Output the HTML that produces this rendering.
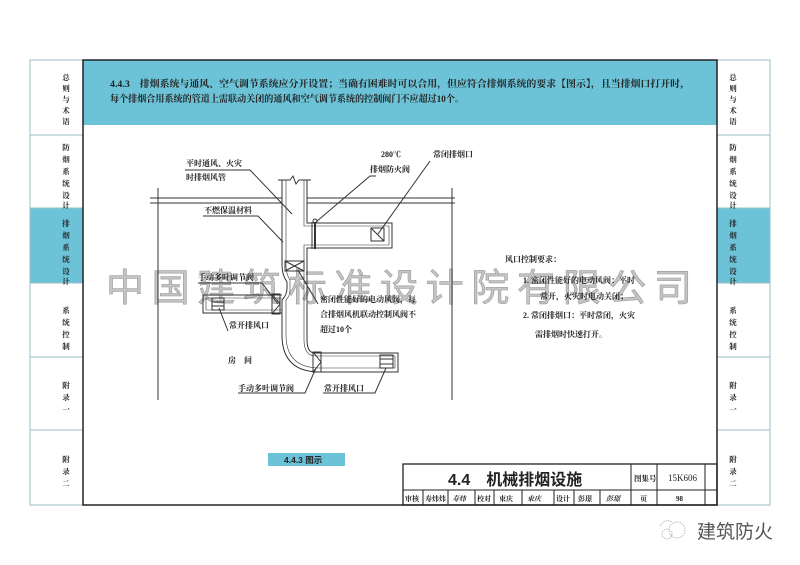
<!DOCTYPE html>
<html><head><meta charset="utf-8"><style>
html,body{margin:0;padding:0;background:#fff;width:800px;height:565px;overflow:hidden}
svg{display:block}
text{font-family:"Liberation Serif","Noto Serif CJK SC","Noto Sans CJK SC",serif;fill:#222}
.s{font-family:"Liberation Sans","Noto Sans CJK SC",sans-serif}
</style></head><body>
<svg width="800" height="565" viewBox="0 0 800 565" xmlns="http://www.w3.org/2000/svg">
<g stroke="#9bbfc6" stroke-width="1" fill="#fff">
<rect x="30" y="60" width="53" height="445"/>
<rect x="717" y="60" width="53" height="445"/>
</g>
<rect x="30.5" y="208" width="52" height="75" fill="#6cc3d8"/>
<rect x="717.5" y="208" width="52" height="75" fill="#6cc3d8"/>
<g stroke="#9bbfc6">
<line x1="30" y1="135" x2="83" y2="135"/><line x1="30" y1="208" x2="83" y2="208"/><line x1="30" y1="283" x2="83" y2="283"/><line x1="30" y1="357" x2="83" y2="357"/><line x1="30" y1="430" x2="83" y2="430"/>
<line x1="717" y1="135" x2="770" y2="135"/><line x1="717" y1="208" x2="770" y2="208"/><line x1="717" y1="283" x2="770" y2="283"/><line x1="717" y1="357" x2="770" y2="357"/><line x1="717" y1="430" x2="770" y2="430"/>
</g>
<g font-size="7.5" font-weight="bold" text-anchor="middle">
<g>
<text x="66" y="80">总</text><text x="66" y="91">则</text><text x="66" y="102">与</text><text x="66" y="113">术</text><text x="66" y="124">语</text>
<text x="66" y="150">防</text><text x="66" y="162">烟</text><text x="66" y="174">系</text><text x="66" y="186">统</text><text x="66" y="198">设</text><text x="66" y="208">计</text>
<text x="66" y="226">排</text><text x="66" y="238">烟</text><text x="66" y="250">系</text><text x="66" y="262">统</text><text x="66" y="274">设</text><text x="66" y="284">计</text>
<text x="66" y="313">系</text><text x="66" y="325">统</text><text x="66" y="337">控</text><text x="66" y="349">制</text>
<text x="66" y="388">附</text><text x="66" y="400">录</text><text x="66" y="412">一</text>
<text x="66" y="462">附</text><text x="66" y="474">录</text><text x="66" y="486">二</text>
</g>
<g transform="translate(667,0)">
<text x="66" y="80">总</text><text x="66" y="91">则</text><text x="66" y="102">与</text><text x="66" y="113">术</text><text x="66" y="124">语</text>
<text x="66" y="150">防</text><text x="66" y="162">烟</text><text x="66" y="174">系</text><text x="66" y="186">统</text><text x="66" y="198">设</text><text x="66" y="208">计</text>
<text x="66" y="226">排</text><text x="66" y="238">烟</text><text x="66" y="250">系</text><text x="66" y="262">统</text><text x="66" y="274">设</text><text x="66" y="284">计</text>
<text x="66" y="313">系</text><text x="66" y="325">统</text><text x="66" y="337">控</text><text x="66" y="349">制</text>
<text x="66" y="388">附</text><text x="66" y="400">录</text><text x="66" y="412">一</text>
<text x="66" y="462">附</text><text x="66" y="474">录</text><text x="66" y="486">二</text>
</g>
</g>
<rect x="83" y="60" width="634" height="65" fill="#6cc3d8"/>
<rect x="83" y="60" width="634" height="445" fill="none" stroke="#222" stroke-width="1.5"/>
<text x="110" y="87" font-size="9.5" font-weight="bold" textLength="580" lengthAdjust="spacingAndGlyphs">4.4.3　排烟系统与通风、空气调节系统应分开设置；当确有困难时可以合用，但应符合排烟系统的要求【图示】，且当排烟口打开时，</text>
<text x="110" y="102" font-size="9.5" font-weight="bold" textLength="354" lengthAdjust="spacingAndGlyphs">每个排烟合用系统的管道上需联动关闭的通风和空气调节系统的控制阀门不应超过10个。</text>

<text x="106" y="301" font-size="38" textLength="586" lengthAdjust="spacing" class="s" style="fill:#c4c4c4;stroke:#999;stroke-width:0.6">中国建筑标准设计院有限公司</text>

<g stroke="#333" fill="none" stroke-width="1">
<line x1="150" y1="198" x2="282" y2="198"/><line x1="150" y1="203" x2="282" y2="203"/>
<line x1="307" y1="198" x2="455" y2="198"/><line x1="307" y1="203" x2="455" y2="203"/>
<line x1="158" y1="188" x2="158" y2="400"/><line x1="452" y1="188" x2="452" y2="400"/>
<path d="M282 180 V265 Q282 275 287 282 V288 Q287 295 282 300 V335 Q282 372 320 372 H398 V353 H315 Q307 353 307 340 V313 V295 V248 H392 V223 H307 V180"/>
<path d="M286 180 V265 Q286 274 290 280 V290 Q290 296 286 300 V335 Q286 368 320 368 H395 V356 H316 Q304 356 304 340 V245 H389 V226 H304 V180" stroke-width="0.6"/>
<path d="M282 295 H203 V313 H282"/>
<path d="M282 298 H206 V310 H282" stroke-width="0.6"/>
<path d="M278 180 H290 L293 176 L296 184 L299 180 H311"/>
<rect x="285" y="261" width="19" height="10"/>
<line x1="285" y1="261" x2="304" y2="271"/><line x1="304" y1="261" x2="285" y2="271"/>
<rect x="272" y="294" width="8" height="20"/><path d="M272 294 L280 304 L272 314"/>
<rect x="313" y="352" width="8" height="20"/><path d="M313 352 L321 362 L313 372"/>
<line x1="315" y1="222" x2="315" y2="249" stroke-width="2"/><line x1="312" y1="222" x2="312" y2="249"/>
<circle cx="315" cy="221" r="2"/>
<rect x="371" y="228" width="13" height="13"/><line x1="371" y1="228" x2="384" y2="241"/>
<rect x="212" y="298" width="12" height="12"/><line x1="212" y1="302" x2="224" y2="302"/><line x1="212" y1="306" x2="224" y2="306"/>
<rect x="380" y="355" width="13" height="13"/><line x1="380" y1="359" x2="393" y2="359"/><line x1="380" y1="364" x2="393" y2="364"/>
<path d="M185 170 H250 L292 214"/>
<path d="M203 216 H258 L283 242"/>
<path d="M376 176 H370 L316 222"/>
<path d="M430 161 L378 234"/>
<path d="M198 283 H262 L278 304"/>
<path d="M228 331 L219 308"/>
<path d="M318 304 L298 270"/>
<path d="M238 393 H305 L316 368"/>
<path d="M323 393 H375 L386 368"/>
</g>
<g font-size="8" font-weight="bold">
<text x="186" y="166">平时通风、火灾</text><text x="186" y="180">时排烟风管</text>
<text x="381" y="157">280℃</text><text x="370" y="172">排烟防火阀</text>
<text x="433" y="157">常闭排烟口</text>
<text x="204" y="213">不燃保温材料</text>
<text x="198" y="280">手动多叶调节阀</text>
<text x="229" y="328">常开排风口</text>
<text x="320" y="302">密闭性能好的电动风阀，每</text>
<text x="320" y="317">合排烟风机联动控制风阀不</text>
<text x="320" y="332">超过10个</text>
<text x="228" y="363">房　间</text>
<text x="238" y="391">手动多叶调节阀</text>
<text x="324" y="391">常开排风口</text>
<text x="505" y="262">风口控制要求：</text>
<text x="523" y="283">1. 密闭性能好的电动风阀：平时</text>
<text x="540" y="299">常开，火灾时电动关闭；</text>
<text x="523" y="318">2. 常闭排烟口：平时常闭，火灾</text>
<text x="535" y="337">需排烟时快速打开。</text>
</g>
<rect x="268" y="453" width="77" height="13" fill="#6cc3d8"/>
<text x="284" y="463" font-size="8.5" font-weight="bold" class="s">4.4.3 图示</text>
<g stroke="#222" fill="none" stroke-width="1">
<rect x="403" y="464" width="314" height="41" stroke-width="1.3"/>
<line x1="403" y1="490" x2="717" y2="490"/>
<line x1="631" y1="464" x2="631" y2="505"/><line x1="657" y1="464" x2="657" y2="505"/><line x1="705" y1="464" x2="705" y2="505"/>
<line x1="423" y1="490" x2="423" y2="505"/><line x1="448" y1="490" x2="448" y2="505"/><line x1="475" y1="490" x2="475" y2="505"/><line x1="494" y1="490" x2="494" y2="505"/><line x1="522" y1="490" x2="522" y2="505"/><line x1="554" y1="490" x2="554" y2="505"/><line x1="574" y1="490" x2="574" y2="505"/><line x1="600" y1="490" x2="600" y2="505"/>
</g>
<text x="448" y="485" font-size="16" font-weight="bold" class="s">4.4　机械排烟设施</text>
<text x="634" y="481" font-size="7.5" font-weight="bold">图集号</text>
<text x="668" y="481" font-size="9">15K606</text>
<g font-size="7" font-weight="bold">
<text x="405" y="501">审核</text><text x="425" y="501">寿炜炜</text><text x="452" y="501" font-style="italic">寿炜</text>
<text x="477" y="501">校对</text><text x="499" y="501">束庆</text><text x="527" y="501" font-style="italic">束庆</text>
<text x="556" y="501">设计</text><text x="578" y="501">彭璟</text><text x="606" y="501" font-style="italic">彭璟</text>
<text x="640" y="501">页</text><text x="676" y="501">98</text>
</g>
<g stroke="#aaa" fill="none" stroke-width="0.8" stroke-dasharray="1.5 1">
<circle cx="677" cy="530" r="8"/><path d="M660 526 Q665 518 672 522"/><circle cx="667" cy="534" r="5"/>
</g>
<text x="697" y="538" font-size="19" class="s" style="fill:#555">建筑防火</text>
</svg>
</body></html>
